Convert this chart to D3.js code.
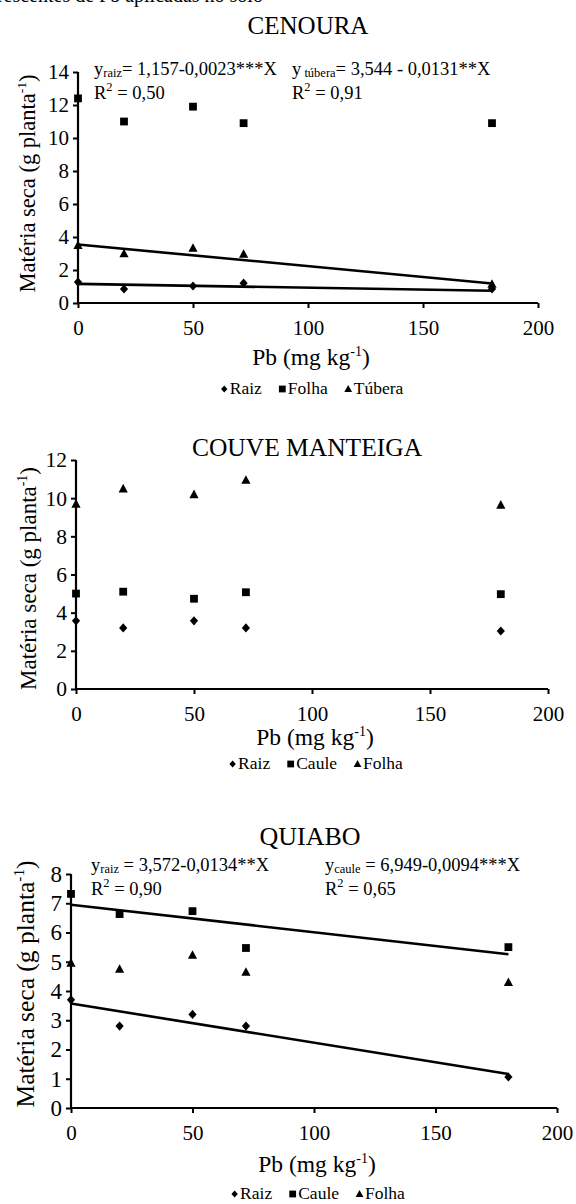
<!DOCTYPE html>
<html><head><meta charset="utf-8">
<script src="https://cdn.jsdelivr.net/npm/d3@7"></script>
<style>
body{margin:0;background:#fff}
svg{display:block}
svg text{font-family:"Liberation Serif","Times New Roman",Times,serif !important;fill:#000}
</style>
</head><body>
<svg id="chart" width="576" height="1204"></svg>
<script>
// ---------- DATA ----------
const doses = [0, 20, 50, 72, 180];
const xTicks = [0, 50, 100, 150, 200];

const cenouraTicksY = [0, 2, 4, 6, 8, 10, 12, 14];
const cenouraRaiz   = [1.27, 0.85, 1.03, 1.20, 0.85];
const cenouraFolha  = [12.4, 11.0, 11.9, 10.9, 10.9];
const cenouraTubera = [3.50, 3.00, 3.33, 2.97, 1.15];
const cenouraFitA = [1.157, 3.544];
const cenouraFitB = [-0.0023, -0.0131];

const couveTicksY = [0, 2, 4, 6, 8, 10, 12];
const couveRaiz  = [3.57, 3.20, 3.57, 3.20, 3.04];
const couveCaule = [5.00, 5.10, 4.73, 5.07, 4.97];
const couveFolha = [9.70, 10.50, 10.20, 10.95, 9.65];

const quiaboTicksY = [0, 1, 2, 3, 4, 5, 6, 7, 8];
const quiaboRaiz  = [3.70, 2.80, 3.20, 2.80, 1.06];
const quiaboCaule = [7.32, 6.63, 6.73, 5.47, 5.50];
const quiaboFolha = [4.96, 4.75, 5.23, 4.65, 4.30];
const quiaboFitA = [3.572, 6.949];
const quiaboFitB = [-0.0134, -0.0094];

const fitRange = [0, 180];

// ---------- DRAWING ----------
const svg = d3.select("#chart");
const FONT = '"Liberation Serif","Times New Roman",Times,serif';

svg.append("text").attr("x", -12).attr("y", 2).attr("font-size", 20)
  .style("font-family", FONT)
  .text("crescentes de Pb aplicadas no solo");

const shapes = {
  diamond: "M0,-4.6L4.1,0L0,4.6L-4.1,0Z",
  square: "M-3.9,-3.9H3.9V3.9H-3.9Z",
  triangle: "M0,-4.8L4.6,3.8L-4.6,3.8Z"
};
const legShapes = {
  diamond: "M0,-3.6L3.2,0L0,3.6L-3.2,0Z",
  square: "M-3.4,-3.4H3.4V3.4H-3.4Z",
  triangle: "M0,-3.9L3.9,3.1L-3.9,3.1Z"
};

function drawPanel(p) {
  const g = svg.append("g").style("font-family", FONT);
  const x = d3.scaleLinear().domain([0, 200]).range([p.left, p.right]);
  const y = d3.scaleLinear().domain([0, p.ymax]).range([p.bottom, p.top]);
  const cx0 = (p.left + p.right) / 2;

  g.append("text").attr("x", cx0 + p.titleDx).attr("y", p.titleY)
    .attr("text-anchor", "middle").attr("font-size", p.titleSize).text(p.title);

  const ax = g.append("g").attr("transform", `translate(0,${p.bottom})`)
    .call(d3.axisBottom(x).tickValues(xTicks).tickSize(5).tickSizeOuter(0).tickPadding(12));
  const ay = g.append("g").attr("transform", `translate(${p.left},0)`)
    .call(d3.axisLeft(y).tickValues(p.yTicks).tickSize(5).tickSizeOuter(0).tickPadding(4));
  [ax, ay].forEach(a => {
    a.attr("font-family", FONT).style("font-family", FONT);
    a.select(".domain").attr("stroke", "#000").attr("stroke-width", 2.2);
    a.selectAll(".tick line").attr("stroke", "#000").attr("stroke-width", 2);
    a.selectAll(".tick text").style("font-family", FONT).attr("font-size", 21).attr("fill", "#000");
  });
  ay.selectAll(".tick text").attr("font-size", p.yTickSize);
  ay.select(".domain").attr("d", `M0,${p.bottom + 1}V${p.top}`);
  ax.select(".domain").attr("d", `M${p.left - 1},0H${p.right}`);

  const xt = g.append("text").attr("x", cx0 + 3).attr("y", p.xTitleY)
    .attr("text-anchor", "middle").attr("font-size", 23.5);
  xt.append("tspan").text("Pb (mg kg");
  xt.append("tspan").attr("dy", -9).attr("font-size", 14).text("-1");
  xt.append("tspan").attr("dy", 9).text(")");

  const yt = g.append("text")
    .attr("transform", `translate(${p.yLabX},${(p.top + p.bottom) / 2 + p.yLabShift}) rotate(-90)`)
    .attr("text-anchor", "middle").attr("font-size", p.yLabSize);
  yt.append("tspan").text("Matéria seca (g planta");
  yt.append("tspan").attr("dy", -p.yLabSize * 0.4).attr("font-size", p.yLabSize * 0.6).text("-1");
  yt.append("tspan").attr("dy", p.yLabSize * 0.4).text(")");

  p.fits.forEach(f => {
    g.append("path")
      .datum(fitRange)
      .attr("fill", "none").attr("stroke", "#000").attr("stroke-width", 2.6)
      .attr("d", d3.line().x(d => x(d)).y(d => y(f.a + f.b * d)));
  });

  p.series.forEach(s => {
    g.selectAll(null).data(s.values.map((v, i) => [doses[i], v])).enter()
      .append("path")
      .attr("d", shapes[s.shape])
      .attr("fill", "#000")
      .attr("transform", d => `translate(${x(d[0])},${y(d[1])})`);
  });

  p.eqs.forEach(e => {
    const t = g.append("text").attr("x", e.x).attr("y", e.y).attr("font-size", 18.5);
    t.append("tspan").text("y");
    t.append("tspan").attr("font-size", 12.5).attr("dy", 2).text(e.sub);
    t.append("tspan").attr("dy", -2).text(e.rest);
    const r = g.append("text").attr("x", e.x).attr("y", e.y + 24).attr("font-size", 18.5);
    r.append("tspan").text("R");
    r.append("tspan").attr("font-size", 12.5).attr("dy", -8).text("2");
    r.append("tspan").attr("dy", 8).text(" = " + e.r2);
  });

  const lg = g.append("g");
  let cx = 0;
  p.series.forEach((s, i) => {
    lg.append("path").attr("d", legShapes[s.shape]).attr("fill", "#000")
      .attr("transform", `translate(${cx + 3.5},-5)`);
    const t = lg.append("text").attr("x", cx + 9).attr("y", 0).attr("font-size", 17.5).text(s.name);
    cx += 9 + t.node().getComputedTextLength() + 17;
  });
  const lw = cx - 17;
  lg.attr("transform", `translate(${cx0 + 4 - lw / 2},${p.legendY})`);
}

const panels = [
  {
    title: "CENOURA", titleSize: 25, titleDx: 0, titleY: 34,
    left: 78, right: 538, top: 72, bottom: 303, ymax: 14, yTicks: cenouraTicksY, yTickSize: 21,
    xTitleY: 365, legendY: 394, yLabX: 35, yLabShift: -4, yLabSize: 22.5,
    series: [
      {name: "Raiz", shape: "diamond", values: cenouraRaiz},
      {name: "Folha", shape: "square", values: cenouraFolha},
      {name: "Túbera", shape: "triangle", values: cenouraTubera}
    ],
    fits: cenouraFitA.map((a, i) => ({a, b: cenouraFitB[i]})),
    eqs: [
      {x: 94, y: 75, sub: "raiz", rest: "= 1,157-0,0023***X", r2: "0,50"},
      {x: 292, y: 75, sub: " túbera", rest: "= 3,544 - 0,0131**X", r2: "0,91"}
    ]
  },
  {
    title: "COUVE MANTEIGA", titleSize: 25.5, titleDx: -5, titleY: 456,
    left: 76, right: 548, top: 460, bottom: 689, ymax: 12, yTicks: couveTicksY, yTickSize: 21.5,
    xTitleY: 745, legendY: 769, yLabX: 36, yLabShift: 4, yLabSize: 23,
    series: [
      {name: "Raiz", shape: "diamond", values: couveRaiz},
      {name: "Caule", shape: "square", values: couveCaule},
      {name: "Folha", shape: "triangle", values: couveFolha}
    ],
    fits: [],
    eqs: []
  },
  {
    title: "QUIABO", titleSize: 26, titleDx: -4, titleY: 845,
    left: 71, right: 557, top: 874, bottom: 1108, ymax: 8, yTicks: quiaboTicksY, yTickSize: 23,
    xTitleY: 1172, legendY: 1199, yLabX: 34, yLabShift: -7, yLabSize: 25.5,
    series: [
      {name: "Raiz", shape: "diamond", values: quiaboRaiz},
      {name: "Caule", shape: "square", values: quiaboCaule},
      {name: "Folha", shape: "triangle", values: quiaboFolha}
    ],
    fits: quiaboFitA.map((a, i) => ({a, b: quiaboFitB[i]})),
    eqs: [
      {x: 91, y: 871, sub: "raiz", rest: " = 3,572-0,0134**X", r2: "0,90"},
      {x: 325, y: 871, sub: "caule", rest: " = 6,949-0,0094***X", r2: "0,65"}
    ]
  }
];

panels.forEach(drawPanel);
</script>
</body></html>
